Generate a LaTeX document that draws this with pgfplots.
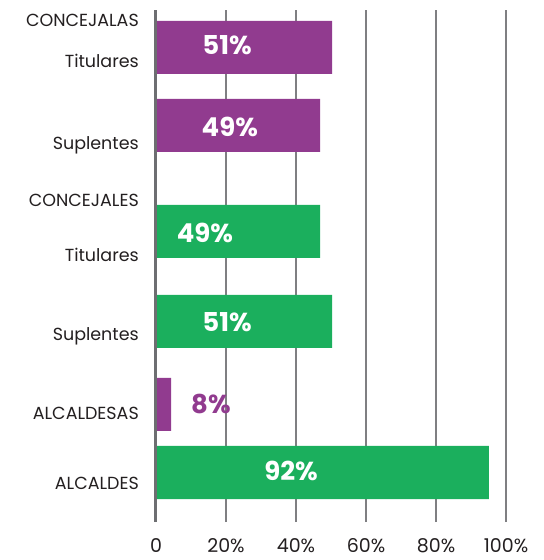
\documentclass[border=0pt]{standalone}
\usepackage{pgfplots}
\pgfplotsset{compat=1.18}
\usepackage{fontspec}
\setmainfont{Poppins}
\definecolor{morado}{HTML}{913B8F}
\definecolor{verde}{HTML}{1BAF5D}
\definecolor{ejegris}{HTML}{6D6E71}
\definecolor{rejilla}{HTML}{7F7F82}
\definecolor{texto}{HTML}{231F20}
\begin{document}
\begin{tikzpicture}
\begin{axis}[
  scale only axis, width=350bp, height=512bp,
  xmin=0, xmax=100, ymin=-522, ymax=-10,
  axis line style={draw=none},
  xtick={0,20,40,60,80,100},
  xticklabels={0,20\%,40\%,60\%,80\%,100\%},
  xmajorgrids, grid style={line width=1.3bp, color=rejilla},
  major tick length=0pt,
  ytick={-27,-68,-150,-207,-262,-341,-420,-489},
  yticklabels={CONCEJALAS,Titulares,Suplentes,CONCEJALES,Titulares,Suplentes,ALCALDESAS,ALCALDES},
  yticklabel style={anchor=base east, inner sep=0pt, xshift=-17bp, font=\fontsize{17.5bp}{20bp}\selectfont, text=texto},
  xticklabel style={anchor=north, inner sep=0pt, yshift=-16bp, font=\fontsize{19bp}{22bp}\selectfont, text=texto},
  clip=false,
]
\addplot[xbar, bar width=53, bar shift=0pt, fill=morado, draw=none]
  coordinates {(50.3,-47.5) (46.9,-125.5) (4.3,-404.5)};
\addplot[xbar, bar width=53, bar shift=0pt, fill=verde, draw=none]
  coordinates {(46.9,-231.5) (50.3,-321.5) (95.1,-472.5)};
\draw[line width=3bp, ejegris] (axis cs:0,-522) -- (axis cs:0,-10);
\addplot[only marks, mark=none, nodes near coords, point meta=explicit symbolic,
  nodes near coords style={anchor=center, inner sep=0pt, text=white, font=\fontsize{26bp}{28bp}\selectfont\bfseries}]
  table[meta=lab] {
x y lab
20.3 -45 51\%
21.1 -127 49\%
14.0 -233 49\%
20.3 -322 51\%
38.6 -471 92\%
};
\addplot[only marks, mark=none, nodes near coords, point meta=explicit symbolic,
  nodes near coords style={anchor=center, inner sep=0pt, text=morado, font=\fontsize{26bp}{28bp}\selectfont\bfseries}]
  table[meta=lab] {
x y lab
15.7 -404 8\%
};
\coordinate (TL) at (axis cs:-44.571,0);
\coordinate (BR) at (axis cs:110.857,-560);
\end{axis}
\pgfresetboundingbox
\path[use as bounding box] (TL) rectangle (BR);
\end{tikzpicture}
\end{document}
